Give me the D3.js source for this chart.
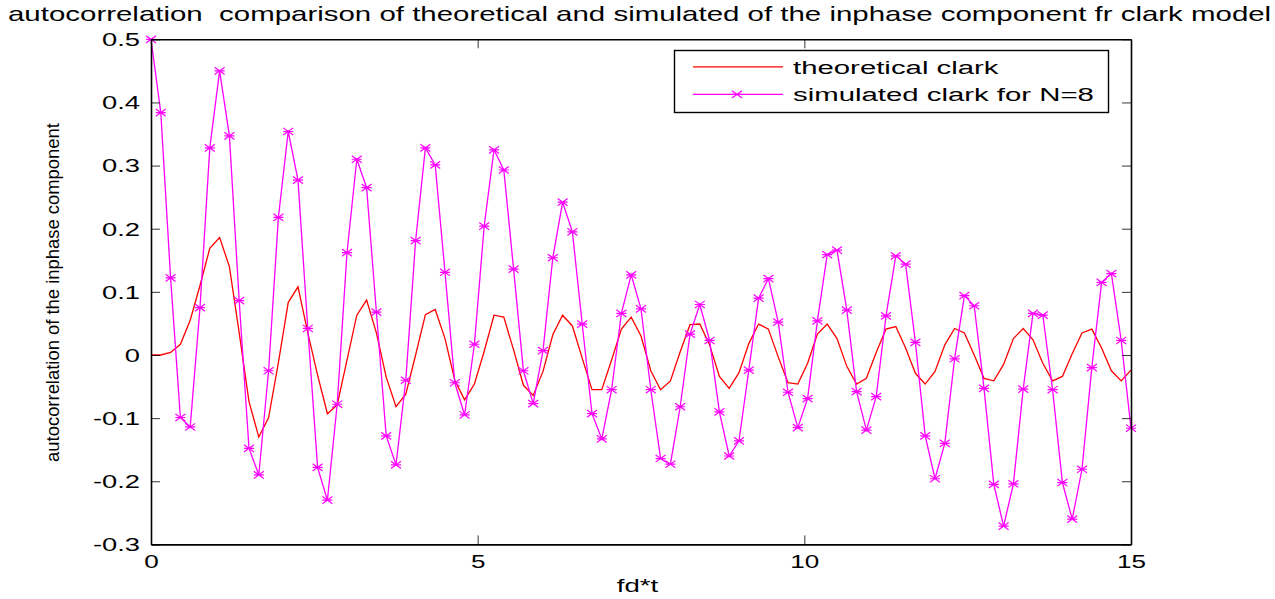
<!DOCTYPE html>
<html><head><meta charset="utf-8">
<script src="https://cdn.jsdelivr.net/npm/d3@7"></script>
<style>
body{margin:0;background:#fff}
svg{display:block}
text{font-family:"Liberation Sans",Arial,Helvetica,sans-serif;fill:#000}
</style>
</head><body>
<svg id="c" width="1275" height="599"></svg>
<script>
// ---- data ----
const fdtStart = 0, fdtStep = 0.15; // sample grid of fd*t (0 .. 15)
const theoretical = [
 0, 0, 0.004, 0.017, 0.055, 0.11, 0.169, 0.186, 0.14, 0.035,
 -0.074, -0.13, -0.099, -0.012, 0.083, 0.108, 0.035, -0.032, -0.093, -0.079,
 -0.008, 0.063, 0.087, 0.035, -0.035, -0.082, -0.062, 0.0, 0.064, 0.072,
 0.026, -0.04, -0.071, -0.046, 0.006, 0.063, 0.060, 0.008, -0.048, -0.064,
 -0.026, 0.032, 0.063, 0.046, -0.005, -0.055, -0.055, -0.008, 0.041, 0.060,
 0.030, -0.025, -0.055, -0.041, 0.005, 0.048, 0.049, 0.016, -0.034, -0.053,
 -0.028, 0.018, 0.049, 0.041, -0.003, -0.044, -0.046, -0.013, 0.033, 0.049,
 0.026, -0.018, -0.046, -0.037, 0.004, 0.041, 0.045, 0.011, -0.029, -0.046,
 -0.026, 0.016, 0.042, 0.035, 0.0, -0.037, -0.041, -0.015, 0.026, 0.042,
 0.024, -0.013, -0.041, -0.034, 0.002, 0.035, 0.041, 0.011, -0.025, -0.041, -0.024
];
const simulated = [
 0.5, 0.384, 0.122, -0.099, -0.114, 0.075, 0.328, 0.45, 0.347, 0.086,
 -0.148, -0.19, -0.025, 0.218, 0.354, 0.277, 0.042, -0.178, -0.23, -0.078,
 0.162, 0.31, 0.265, 0.068, -0.128, -0.174, -0.04, 0.181, 0.328, 0.301,
 0.131, -0.044, -0.095, 0.017, 0.204, 0.325, 0.293, 0.136, -0.025, -0.077,
 0.007, 0.154, 0.242, 0.195, 0.049, -0.093, -0.133, -0.055, 0.066, 0.127,
 0.073, -0.055, -0.164, -0.173, -0.082, 0.033, 0.08, 0.023, -0.09, -0.16,
 -0.136, -0.024, 0.09, 0.121, 0.052, -0.059, -0.115, -0.069, 0.054, 0.159,
 0.166, 0.071, -0.058, -0.119, -0.066, 0.062, 0.157, 0.144, 0.02, -0.128,
 -0.196, -0.14, -0.006, 0.094, 0.078, -0.053, -0.205, -0.271, -0.204, -0.054,
 0.066, 0.063, -0.055, -0.202, -0.26, -0.181, -0.02, 0.115, 0.129, 0.023, -0.116
];
const xTicks = [0, 5, 10, 15];
const yTicks = [-0.3, -0.2, -0.1, 0, 0.1, 0.2, 0.3, 0.4, 0.5];
const yTickLabels = ["-0.3", "-0.2", "-0.1", "0", "0.1", "0.2", "0.3", "0.4", "0.5"];
const xTickLabels = ["0", "5", "10", "15"];
const seriesNames = ["theoretical clark", "simulated clark for N=8"];
const seriesColors = ["#ff0000", "#ff00ff"];
const titleText = "autocorrelation  comparison of theoretical and simulated of the inphase component fr clark model";
const xLabelText = "fd*t";
const yLabelText = "autocorrelation of the inphase component";

// ---- layout ----
const svg = d3.select("#c");
const L = 151, R = 1131, T = 39.3, B = 544.4;
const x = d3.scaleLinear().domain([0, 15]).range([L, R]);
const y = d3.scaleLinear().domain([-0.3, 0.5]).range([B, T]);
const xs = i => fdtStart + i * fdtStep;

svg.append("rect").attr("x", L).attr("y", T).attr("width", R - L).attr("height", B - T).attr("fill", "#fff");

// series lines
const line = d3.line().x((d, i) => x(xs(i))).y(d => y(d));
svg.append("path").datum(theoretical).attr("d", line)
  .attr("fill", "none").attr("stroke", seriesColors[0]).attr("stroke-width", 1.3);
svg.append("path").datum(simulated).attr("d", line)
  .attr("fill", "none").attr("stroke", seriesColors[1]).attr("stroke-width", 1.3);

function marker(g, cx, cy) {
  const w = 5, h = 3.6;
  const p = `M${cx - w},${cy - h}L${cx + w},${cy + h}M${cx - w},${cy + h}L${cx + w},${cy - h}M${cx - w},${cy}L${cx + w},${cy}`;
  g.append("path").attr("d", p).attr("stroke", seriesColors[1]).attr("stroke-width", 1.2).attr("fill", "none");
}
const mg = svg.append("g");
simulated.forEach((d, i) => marker(mg, x(xs(i)), y(d)));

// axes
const sY = 1.52, sX = 1.45;
const axL = svg.append("g").attr("transform", `translate(${L},0)`)
  .call(d3.axisLeft(y).tickValues(yTicks).tickSizeInner(-9).tickSizeOuter(0).tickPadding(11)
    .tickFormat((d, i) => yTickLabels[i]));
axL.selectAll("text").style("font-size", "18px").attr("dy", "0.35em")
  .attr("x", -11 / sY).attr("transform", `scale(${sY},1)`);
const axR = svg.append("g").attr("transform", `translate(${R},0)`)
  .call(d3.axisRight(y).tickValues(yTicks).tickSizeInner(-9).tickSizeOuter(0).tickFormat(""));
const axB = svg.append("g").attr("transform", `translate(0,${B})`)
  .call(d3.axisBottom(x).tickValues(xTicks).tickSizeInner(-9).tickSizeOuter(0)
    .tickFormat((d, i) => xTickLabels[i]));
axB.selectAll(".tick text").style("font-size", "18px").attr("x", 0).attr("y", 23.3).attr("dy", null)
  .attr("transform", `scale(${sX},1)`);
const axT = svg.append("g").attr("transform", `translate(0,${T})`)
  .call(d3.axisTop(x).tickValues(xTicks).tickSizeInner(-9).tickSizeOuter(0).tickFormat(""));
[axL, axR, axB, axT].forEach(a => {
  a.select(".domain").attr("stroke", "#000").attr("stroke-width", 1.6);
  a.selectAll(".tick line").attr("stroke", "#000").attr("stroke-width", 0.8);
});

// title
const title = svg.append("text").attr("x", 0).attr("y", 0)
  .attr("xml:space", "preserve").style("white-space", "pre")
  .style("font-size", "21px").text(titleText);
{
  const len = title.node().getComputedTextLength();
  const s = (1272 - 8) / len;
  title.attr("transform", `translate(8,21) scale(${s},1)`);
}

// x label
const xl = svg.append("text").attr("text-anchor", "middle").style("font-size", "18px").text(xLabelText);
{
  const len = xl.node().getComputedTextLength();
  xl.attr("transform", `translate(637.5,591.5) scale(${41.5 / len},1)`);
}

// y label
const yl = svg.append("text").attr("text-anchor", "middle").style("font-size", "18px").text(yLabelText);
{
  const len = yl.node().getComputedTextLength();
  yl.attr("transform", `translate(58.5,292.5) rotate(-90) scale(${339 / len},1)`);
}

// legend
const lg = svg.append("g");
lg.append("rect").attr("x", 674.5).attr("y", 50.5).attr("width", 434).attr("height", 62)
  .attr("fill", "#fff").attr("stroke", "#000").attr("stroke-width", 1.4);
const legY = [66.8, 94.3];
let legS = 1.4;
seriesNames.forEach((nm, k) => {
  lg.append("line").attr("x1", 693).attr("x2", 783).attr("y1", legY[k]).attr("y2", legY[k])
    .attr("stroke", seriesColors[k]).attr("stroke-width", 1.2);
  const t = lg.append("text").style("font-size", "19px").text(nm);
  if (k === 1) legS = 301 / t.node().getComputedTextLength();
});
lg.selectAll("text").each(function (d, k) {
  d3.select(this).attr("transform", `translate(793,${legY[k] + 6.8}) scale(${legS},1)`);
});
marker(lg, 737, legY[1]);
</script>
</body></html>
